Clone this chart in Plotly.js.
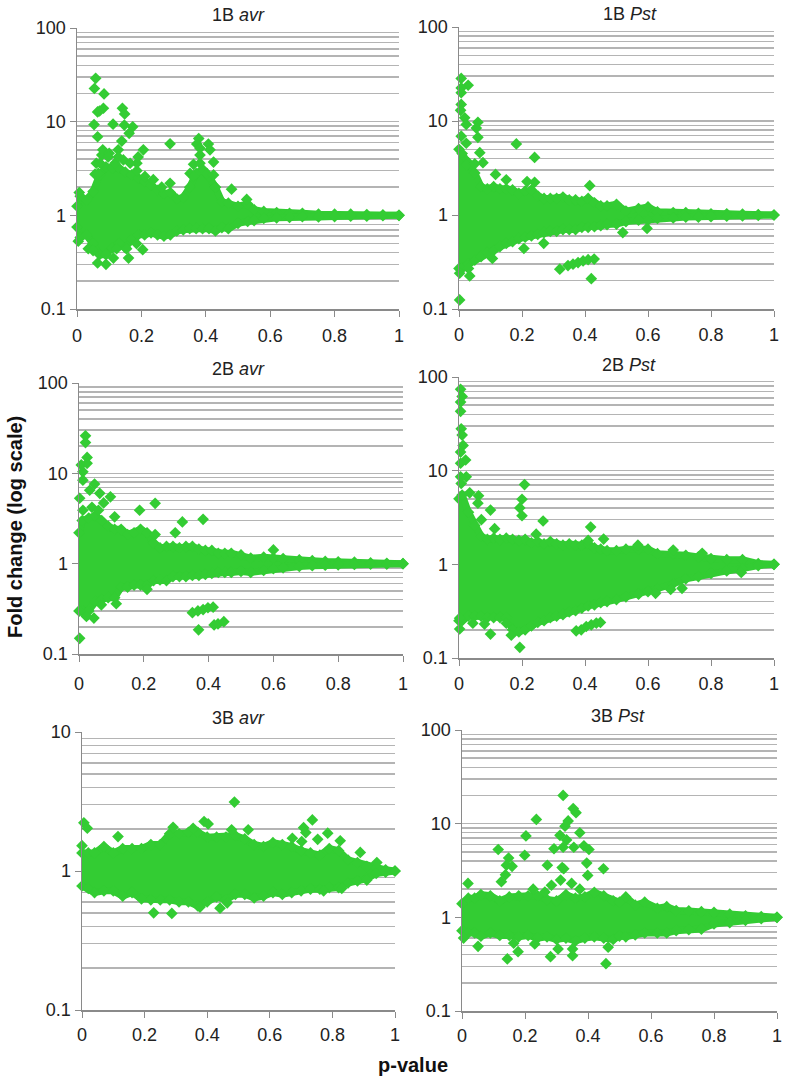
<!DOCTYPE html>
<html><head><meta charset="utf-8">
<script src="https://cdn.plot.ly/plotly-3.0.1.min.js"></script>
<style>html,body{margin:0;padding:0;background:#fff}#c{width:792px;height:1083px}</style>
</head><body><div id="c"></div>
<script>
// ---- 1B avr ----
const a1X=[0,0.01,0.03,0.05,0.07,0.09,0.11,0.13,0.15,0.17,0.19,0.21,0.23,0.25,0.27,0.29,0.31,0.33,0.35,0.37,0.39,0.41,0.43,0.45,0.47,0.5,0.53,0.55,0.58,0.62,0.66,0.7,0.75,0.8,0.85,0.9,0.95,1];
const a1Up=[1.25,1.6,1.45,1.8,2.7,3.3,3.2,3.2,2.9,2.7,2.5,2.3,2.1,1.85,1.7,1.75,1.5,1.55,2.0,2.8,3.1,2.6,2.0,1.4,1.35,1.25,1.32,1.15,1.1,1.07,1.05,1.05,1.03,1.03,1.03,1.02,1.01,1];
const a1Lo=[0.75,0.58,0.62,0.5,0.38,0.38,0.45,0.5,0.45,0.55,0.62,0.62,0.65,0.62,0.6,0.62,0.68,0.7,0.72,0.72,0.72,0.72,0.68,0.74,0.72,0.82,0.86,0.88,0.93,0.94,0.95,0.97,0.96,0.97,0.98,0.98,0.99,1];
const a1PX=[0.058,0.054,0.084,0.064,0.082,0.07,0.141,0.148,0.053,0.112,0.147,0.173,0.162,0.064,0.139,0.289,0.378,0.372,0.408,0.382,0.413,0.206,0.128,0.382,0.424,0.362,0.48,0.527,0.289,0.237,0.186,0.19,0.077,0.08,0.1,0.06,0.056,0.007,0.064,0.09,0.113,0.16,0.204,0.004,0.072,0.097,0.118,0.144,0.165,0.066,0.186,0.211,0.263,0.128,0.351,0.382,0.403,0.424,0.429,0.362,0.035,0.05,0.123,0.154,0.185];
const a1PY=[29,22.6,19.8,12.7,13.9,13,13.9,12.1,9.3,9.4,9.2,8.8,7.5,6.9,6.2,5.8,6.6,5.76,5.76,5.2,5,5,5,4.4,3.7,3.5,1.9,1.48,2.2,2.4,3.6,4.2,4.4,5,4.6,3.6,2.75,1.75,0.31,0.3,0.35,0.35,0.43,0.53,3.6,4.2,3.6,3.9,3.6,2.8,3.0,2.6,2.0,4.2,2.8,3.6,2.8,2.7,2.0,2.6,0.44,0.42,0.44,0.44,0.5];
// ---- 1B Pst ----
const b1X=[0,0.01,0.03,0.05,0.07,0.09,0.11,0.13,0.15,0.17,0.19,0.21,0.23,0.25,0.27,0.29,0.31,0.33,0.35,0.37,0.39,0.41,0.43,0.45,0.47,0.5,0.53,0.57,0.6,0.63,0.68,0.72,0.76,0.8,0.85,0.9,0.95,1];
const b1Up=[5,4.5,3.6,2.8,2.0,1.9,2.0,1.9,1.9,1.85,1.7,1.8,1.85,1.6,1.5,1.5,1.5,1.55,1.45,1.45,1.4,1.5,1.35,1.25,1.25,1.3,1.1,1.17,1.22,1.08,1.06,1.06,1.04,1.03,1.03,1.02,1.01,1];
const b1Lo=[0.27,0.27,0.3,0.33,0.36,0.4,0.42,0.46,0.5,0.52,0.56,0.58,0.6,0.62,0.65,0.67,0.67,0.7,0.7,0.7,0.74,0.74,0.75,0.77,0.79,0.8,0.85,0.88,0.88,0.92,0.93,0.95,0.95,0.96,0.97,0.98,0.99,1];
const b1PX=[0.007,0.029,0.007,0.007,0.007,0.005,0.018,0.06,0.055,0.023,0.06,0.007,0.023,0.066,0.076,0.182,0.24,0.415,0.116,0.15,0.216,0.24,0.002,0.034,0.002,0.03,0.106,0.206,0.269,0.52,0.597,0.42,0.32,0.346,0.362,0.378,0.394,0.41,0.429,0.023,0.05];
const b1PY=[28.4,24,22.5,20,15,13,10.8,9.7,8.4,9.2,6.7,6.9,5.8,4.6,3.6,5.7,4.1,2.05,2.7,2.37,2.27,2.23,0.125,0.225,0.24,0.27,0.345,0.44,0.5,0.65,0.72,0.21,0.265,0.29,0.3,0.312,0.325,0.335,0.34,3.4,3.5];
// ---- 2B avr ----
const a2X=[0,0.01,0.03,0.05,0.07,0.09,0.11,0.13,0.15,0.17,0.19,0.21,0.23,0.25,0.27,0.29,0.31,0.33,0.35,0.37,0.39,0.41,0.43,0.45,0.47,0.5,0.53,0.57,0.6,0.63,0.68,0.72,0.76,0.8,0.85,0.9,0.95,1];
const a2Up=[2.2,3.0,3.2,3.4,3.0,2.6,2.4,2.4,2.1,2.2,2.4,2.2,1.7,1.5,1.55,1.55,1.5,1.55,1.55,1.45,1.4,1.4,1.3,1.3,1.3,1.25,1.15,1.18,1.15,1.14,1.1,1.08,1.06,1.05,1.04,1.02,1.01,1];
const a2Lo=[0.3,0.3,0.3,0.38,0.4,0.42,0.42,0.55,0.55,0.58,0.58,0.58,0.65,0.66,0.65,0.72,0.72,0.72,0.74,0.74,0.76,0.78,0.8,0.8,0.8,0.82,0.8,0.84,0.88,0.9,0.93,0.95,0.96,0.97,0.98,0.99,0.99,1];
const a2PX=[0.02,0.02,0.025,0.007,0.025,0.012,0.012,0.048,0.033,0.064,0.097,0.002,0.076,0.187,0.235,0.11,0.319,0.383,0.297,0.235,0.6,0.002,0.046,0.023,0.002,0.115,0.069,0.21,0.35,0.367,0.383,0.398,0.414,0.369,0.417,0.429,0.447,0.012,0.04,0.06];
const a2PY=[26,21.9,15,12.4,12.9,10.4,8.4,7.6,6.5,6,5.5,5.3,4.7,3.9,4.65,3.3,2.9,3.1,2.2,2.1,1.42,0.149,0.25,0.26,0.3,0.36,0.35,0.52,0.287,0.3,0.31,0.325,0.33,0.185,0.21,0.215,0.228,3.9,4.2,3.9];
// ---- 2B Pst ----
const b2X=[0,0.01,0.03,0.05,0.07,0.09,0.11,0.13,0.15,0.17,0.19,0.21,0.23,0.25,0.27,0.29,0.31,0.33,0.35,0.37,0.39,0.41,0.43,0.45,0.47,0.5,0.53,0.57,0.6,0.63,0.68,0.72,0.76,0.8,0.85,0.9,0.95,1];
const b2Up=[5,5.5,3.6,2.6,2.0,1.85,1.9,1.85,1.9,1.85,1.8,1.85,1.7,1.75,1.65,1.75,1.65,1.6,1.65,1.6,1.6,1.65,1.5,1.45,1.4,1.4,1.45,1.45,1.45,1.3,1.3,1.25,1.2,1.15,1.12,1.12,1.02,1];
const b2Lo=[0.25,0.25,0.28,0.28,0.28,0.27,0.27,0.27,0.27,0.2,0.19,0.2,0.22,0.24,0.25,0.27,0.28,0.29,0.31,0.32,0.34,0.36,0.37,0.39,0.4,0.42,0.45,0.48,0.51,0.55,0.62,0.7,0.74,0.8,0.85,0.9,0.97,1];
const b2PX=[0.005,0.01,0.005,0.005,0.007,0.01,0.013,0.005,0.021,0.005,0.023,0.005,0.007,0.208,0.2,0.193,0.2,0.1,0.267,0.418,0.459,0.034,0.062,0.06,0.071,0.113,0.245,0.41,0.568,0.68,0.772,0.002,0.1,0.193,0.166,0.081,0.044,0.15,0.002,0.896,0.708,0.672,0.624,0.372,0.388,0.404,0.42,0.436,0.449];
const b2PY=[74,62,54,43,28,24,18.6,15.8,13,12,8.6,8.6,7.3,7.1,4.95,4,3.3,3.8,2.9,2.5,1.86,5.8,5.4,4.5,3,2.4,2.1,1.8,1.6,1.42,1.31,0.204,0.18,0.13,0.175,0.23,0.235,0.235,0.266,0.82,0.555,0.54,0.49,0.195,0.2,0.217,0.226,0.236,0.24];
// ---- 3B avr ----
const a3X=[0,0.02,0.04,0.07,0.1,0.13,0.16,0.19,0.22,0.25,0.28,0.31,0.34,0.37,0.4,0.43,0.46,0.49,0.52,0.55,0.58,0.61,0.64,0.67,0.7,0.73,0.76,0.79,0.82,0.85,0.88,0.91,0.94,0.97,1];
const a3Up=[1.35,1.35,1.35,1.5,1.35,1.45,1.45,1.45,1.55,1.55,1.85,1.85,1.9,1.9,1.75,1.75,1.75,1.8,1.7,1.55,1.5,1.6,1.55,1.5,1.4,1.35,1.3,1.45,1.4,1.2,1.15,1.08,1.05,1.02,1];
const a3Lo=[0.78,0.75,0.7,0.72,0.72,0.66,0.7,0.63,0.62,0.62,0.62,0.6,0.6,0.56,0.6,0.65,0.62,0.68,0.68,0.64,0.66,0.7,0.68,0.7,0.72,0.74,0.74,0.76,0.76,0.82,0.85,0.88,0.96,0.98,1];
const a3PX=[0.487,0.006,0.017,0.39,0.403,0.736,0.708,0.715,0.753,0.785,0.672,0.702,0.531,0.115,0.291,0.355,0.478,0.825,0.889,0.942,0,0.229,0.287,0.441,0.464,0.772,0.83,0.91,0.377];
const a3PY=[3.13,2.22,2.03,2.27,2.18,2.33,2.05,1.89,1.69,1.87,1.72,1.63,1.98,1.77,2.06,2.03,1.98,1.65,1.36,1.15,1.52,0.5,0.495,0.54,0.59,0.72,0.75,0.86,0.55];
// ---- 3B Pst ----
const b3X=[0,0.02,0.04,0.06,0.09,0.12,0.15,0.18,0.21,0.24,0.27,0.3,0.33,0.36,0.39,0.42,0.45,0.48,0.5,0.52,0.55,0.58,0.62,0.65,0.68,0.72,0.76,0.8,0.85,0.9,0.95,1];
const b3Up=[1.4,1.6,1.6,1.75,1.7,1.5,1.65,1.7,1.7,1.7,1.55,1.5,1.75,1.6,1.65,1.85,1.7,1.5,1.45,1.65,1.35,1.45,1.25,1.3,1.18,1.17,1.15,1.13,1.08,1.04,1.02,1];
const b3Lo=[0.72,0.68,0.68,0.63,0.68,0.64,0.64,0.62,0.64,0.6,0.62,0.58,0.6,0.56,0.6,0.62,0.6,0.58,0.63,0.62,0.65,0.68,0.68,0.68,0.72,0.74,0.75,0.85,0.88,0.93,0.97,1];
const b3PX=[0.321,0.353,0.362,0.236,0.337,0.327,0.374,0.203,0.311,0.332,0.115,0.292,0.321,0.355,0.387,0.403,0.148,0.199,0.396,0.141,0.159,0.271,0.318,0.323,0.449,0.399,0.138,0.125,0.019,0.313,0.348,0.374,0.284,0.263,0.226,0.144,0.178,0.281,0.351,0.351,0.457,0.051,0.005,0.305,0.231,0.164,0.464];
const b3PY=[20,14.5,13.1,11.1,10.7,9.4,8,7.4,7.5,6.7,5.3,5.4,5.6,5.6,5.8,5.3,4.3,4.6,3.8,3.6,3.5,3.6,3.4,3.3,3.3,2.8,2.85,2.4,2.3,2.5,2.3,2,2.2,1.86,2,0.36,0.43,0.38,0.39,0.46,0.32,0.49,0.6,0.46,0.52,0.53,0.48];

const titles=['1B <i>avr</i>','1B <i>Pst</i>','2B <i>avr</i>','2B <i>Pst</i>','3B <i>avr</i>','3B <i>Pst</i>'];
const yRanges=[[-1,2],[-1,2],[-1,2],[-1,2],[-1,1],[-1,2]];
const series=[[a1X,a1Up,a1Lo,a1PX,a1PY],[b1X,b1Up,b1Lo,b1PX,b1PY],[a2X,a2Up,a2Lo,a2PX,a2PY],[b2X,b2Up,b2Lo,b2PX,b2PY],[a3X,a3Up,a3Lo,a3PX,a3PY],[b3X,b3Up,b3Lo,b3PX,b3PY]];
// panel boxes in page pixels: left, right, top, bottom
const boxes=[[77,399,28,309],[459,774,27,309],[79,403,383,654],[459,774,377,658],[82,395,732,1010],[462,777,730,1011]];
const titlePos=[[238,15],[630,14],[238,369],[629,365],[238,718],[618,716]];
const standoff=[4,3,7,3,2,2];
const W=792,H=1083,GREEN='#33cc33',FONT='Liberation Sans, Arial, sans-serif';

const data=[],annotations=[],layout={width:W,height:H,margin:{l:0,r:0,t:0,b:0},paper_bgcolor:'#fff',plot_bgcolor:'#fff',showlegend:false,font:{family:FONT,color:'#222'}};
series.forEach((s,i)=>{
  const n=i+1,xa='x'+n,ya='y'+n,b=boxes[i];
  const mk={symbol:'diamond',size:9,color:GREEN,line:{width:0}};
  const ln={color:GREEN,width:7};
  const base={xaxis:xa,yaxis:ya,type:'scatter',cliponaxis:false,hoverinfo:'skip'};
  data.push(Object.assign({},base,{x:s[0],y:s[1],mode:'lines+markers',line:ln,marker:mk}));
  data.push(Object.assign({},base,{x:s[0],y:s[2],mode:'lines+markers',line:ln,marker:mk,fill:'tonexty',fillcolor:GREEN}));
  data.push(Object.assign({},base,{x:s[3],y:s[4],mode:'markers',marker:mk}));
  layout['xaxis'+n]={domain:[b[0]/W,b[1]/W],anchor:ya,range:[0,1],dtick:0.2,tick0:0,showgrid:false,zeroline:false,showline:true,linecolor:'#8a8a8a',linewidth:1.5,ticks:'outside',ticklen:6,tickcolor:'#8a8a8a',tickfont:{size:18,color:'#222'},ticklabelstandoff:standoff[i],fixedrange:true};
  layout['yaxis'+n]={domain:[1-b[3]/H,1-b[2]/H],anchor:xa,type:'log',range:yRanges[i],dtick:1,showgrid:true,gridcolor:'#b4b4b4',gridwidth:1.5,zeroline:false,showline:true,linecolor:'#8a8a8a',linewidth:1.5,ticks:'outside',ticklen:6,tickcolor:'#8a8a8a',tickfont:{size:18,color:'#222'},exponentformat:'none',fixedrange:true,
    minor:{dtick:'D1',showgrid:true,gridcolor:'#b4b4b4',gridwidth:1.5,ticks:''}};
  annotations.push({text:titles[i],xref:'paper',yref:'paper',x:titlePos[i][0]/W,y:1-titlePos[i][1]/H,xanchor:'center',yanchor:'middle',showarrow:false,font:{size:18,color:'#222',family:FONT}});
});
annotations.push({text:'<b>Fold change (log scale)</b>',xref:'paper',yref:'paper',x:15/W,y:1-527/H,textangle:-90,xanchor:'center',yanchor:'middle',showarrow:false,font:{size:20,color:'#111',family:FONT}});
annotations.push({text:'<b>p-value</b>',xref:'paper',yref:'paper',x:413/W,y:1-1065/H,xanchor:'center',yanchor:'middle',showarrow:false,font:{size:20,color:'#111',family:FONT}});
layout.annotations=annotations;
Plotly.newPlot('c',data,layout,{displayModeBar:false,staticPlot:true});
</script></body></html>
